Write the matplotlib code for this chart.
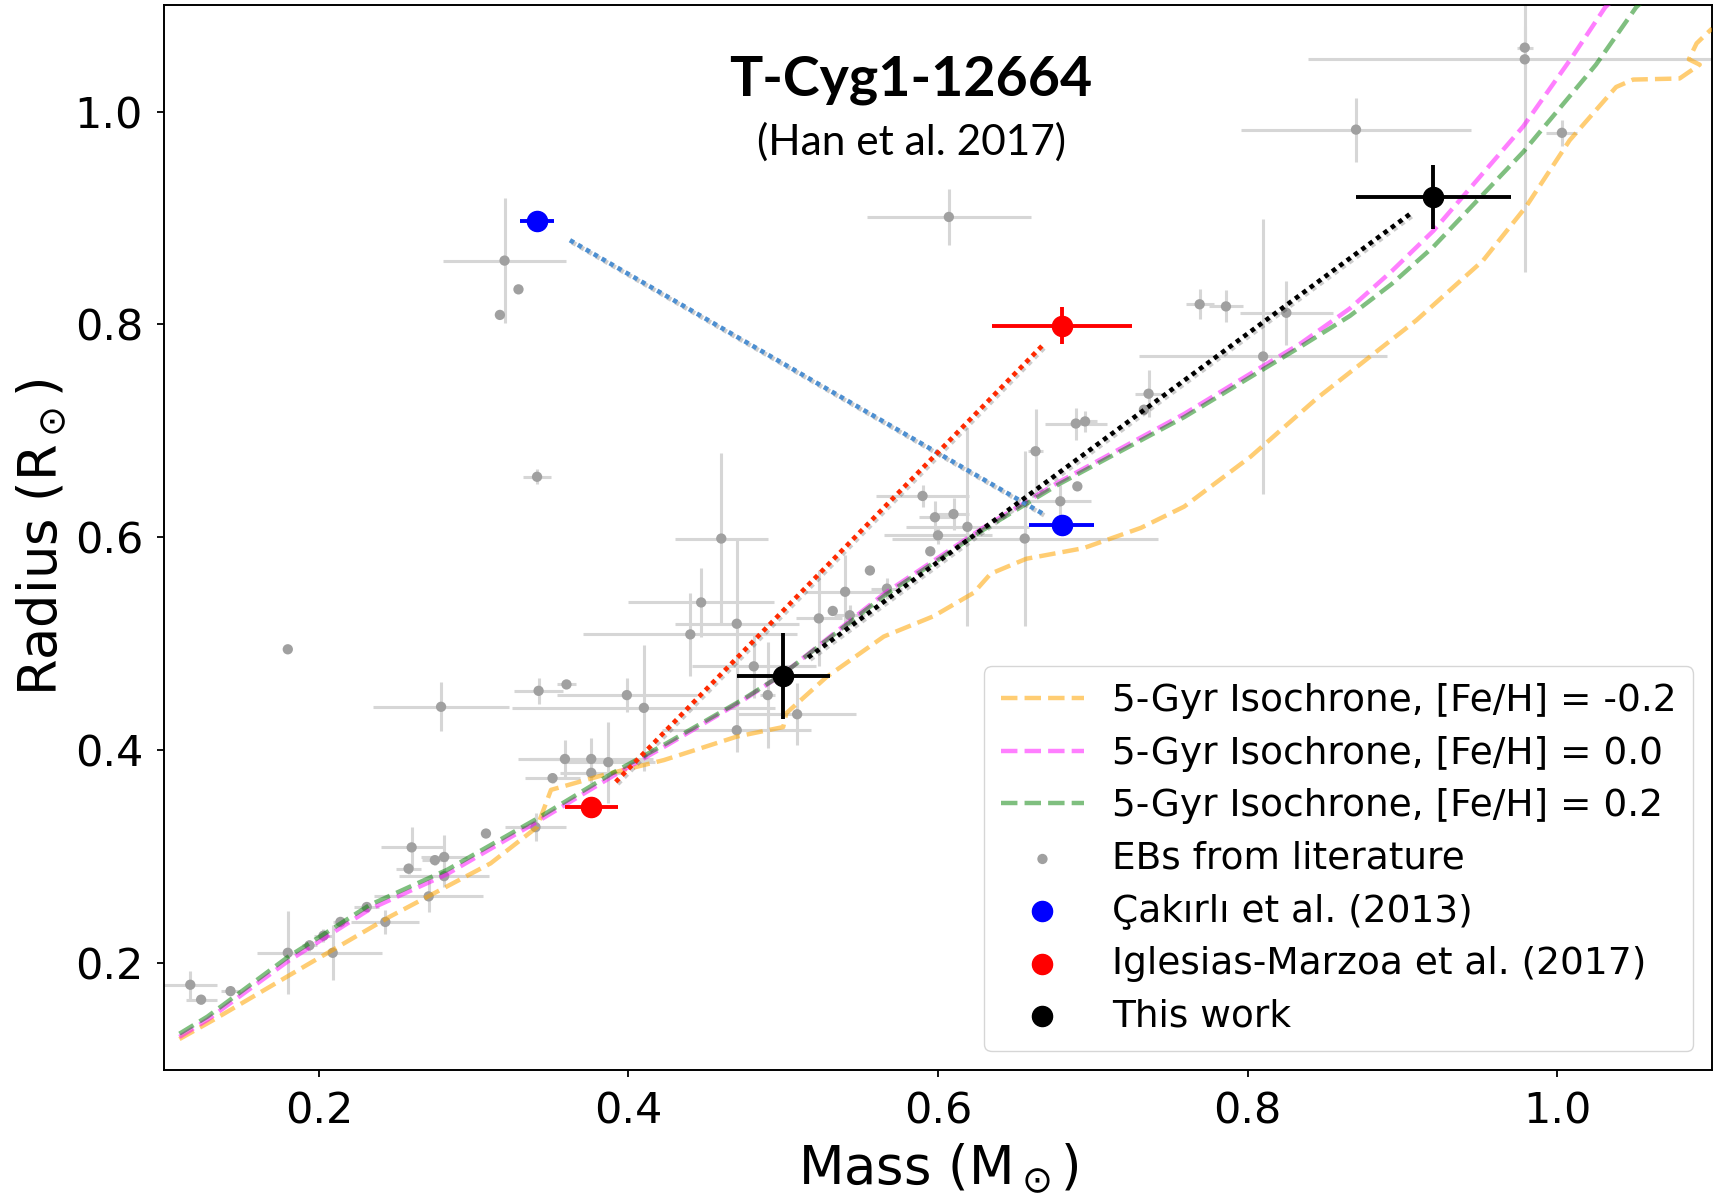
import numpy as np
import matplotlib
matplotlib.use('Agg')
import matplotlib.pyplot as plt
import matplotlib.patheffects as pe

# isochrones (mass, radius)
iso_m02 = [0.11, 0.128, 0.180, 0.233, 0.283, 0.341, 0.39, 0.425, 0.474, 0.5, 0.565, 0.629,
           0.678, 0.759, 0.834, 0.866, 0.893, 0.92, 0.978, 1.025, 1.051, 1.06]
iso_r02 = [0.134, 0.150, 0.206, 0.255, 0.288, 0.336, 0.379, 0.407, 0.448, 0.472, 0.545, 0.607,
           0.65, 0.713, 0.779, 0.808, 0.838, 0.873, 0.962, 1.044, 1.098, 1.11]

iso_m00 = [0.11, 0.128, 0.180, 0.233, 0.283, 0.341, 0.39, 0.425, 0.474, 0.5, 0.565, 0.629,
           0.678, 0.759, 0.802, 0.834, 0.866, 0.893, 0.92, 0.978, 1.01, 1.031, 1.04]
iso_r00 = [0.131, 0.147, 0.202, 0.251, 0.284, 0.333, 0.376, 0.405, 0.447, 0.472, 0.547, 0.609,
           0.652, 0.716, 0.754, 0.782, 0.815, 0.85, 0.888, 0.986, 1.052, 1.098, 1.11]

iso_mm02 = [0.11, 0.132, 0.194, 0.246, 0.311, 0.341, 0.350, 0.384, 0.423, 0.47, 0.5, 0.502,
            0.528, 0.565, 0.597, 0.623, 0.634, 0.657, 0.694, 0.731, 0.759, 0.802, 0.845,
            0.909, 0.952, 0.98, 1.008, 1.038, 1.049, 1.079, 1.092, 1.085, 1.09, 1.1]
iso_rm02 = [0.129, 0.147, 0.2, 0.244, 0.294, 0.328, 0.363, 0.377, 0.391, 0.413, 0.422, 0.435,
            0.469, 0.507, 0.526, 0.548, 0.566, 0.58, 0.59, 0.609, 0.629, 0.676, 0.731,
            0.804, 0.86, 0.911, 0.973, 1.023, 1.03, 1.031, 1.044, 1.049, 1.064, 1.078]

# EBs from literature: mass, radius, mass error, radius error
eb_m = [0.117, 0.124, 0.143, 0.180, 0.194, 0.203, 0.209, 0.214, 0.231, 0.243, 0.258, 0.260,
        0.271, 0.275, 0.281, 0.281, 0.180, 0.279, 0.308, 0.340, 0.342, 0.360, 0.341, 0.320,
        0.329, 0.317, 0.351, 0.359, 0.376, 0.387, 0.376, 0.399, 0.410, 0.440, 0.447, 0.460,
        0.470, 0.481, 0.470, 0.490, 0.509, 0.523, 0.532, 0.540, 0.543, 0.556, 0.567, 0.590,
        0.598, 0.610, 0.619, 0.600, 0.595, 0.607, 0.656, 0.663, 0.679, 0.690, 0.689, 0.695,
        0.733, 0.736, 0.769, 0.786, 0.810, 0.825, 0.870, 0.979, 0.979, 1.003]
eb_r = [0.180, 0.166, 0.174, 0.210, 0.217, 0.226, 0.210, 0.239, 0.253, 0.239, 0.289, 0.309,
        0.263, 0.297, 0.300, 0.282, 0.495, 0.441, 0.322, 0.328, 0.456, 0.462, 0.657, 0.860,
        0.833, 0.809, 0.374, 0.392, 0.392, 0.389, 0.379, 0.452, 0.440, 0.509, 0.539, 0.599,
        0.519, 0.479, 0.419, 0.452, 0.434, 0.524, 0.531, 0.549, 0.527, 0.569, 0.552, 0.639,
        0.619, 0.622, 0.610, 0.602, 0.587, 0.901, 0.599, 0.681, 0.634, 0.648, 0.707, 0.709,
        0.720, 0.735, 0.819, 0.817, 0.770, 0.811, 0.983, 1.049, 1.060, 0.980]
eb_merr = [0.017, 0.010, 0.006, 0.020, 0.005, 0.006, 0.032, 0.005, 0.008, 0.022, 0.008, 0.020,
           0.035, 0.008, 0.015, 0.029, 0.0, 0.044, 0.0, 0.020, 0.016, 0.006, 0.009, 0.040,
           0.0, 0.0, 0.018, 0.030, 0.040, 0.030, 0.020, 0.045, 0.085, 0.069, 0.047, 0.030,
           0.040, 0.040, 0.048, 0.005, 0.038, 0.015, 0.0, 0.026, 0.010, 0.0, 0.010, 0.030,
           0.010, 0.010, 0.040, 0.035, 0.0, 0.053, 0.086, 0.005, 0.020, 0.0, 0.020, 0.008,
           0.0, 0.009, 0.009, 0.011, 0.080, 0.030, 0.074, 0.140, 0.005, 0.010]
eb_rerr = [0.013, 0.004, 0.004, 0.039, 0.005, 0.006, 0.026, 0.005, 0.005, 0.011, 0.005, 0.019,
           0.015, 0.005, 0.021, 0.010, 0.0, 0.023, 0.0, 0.013, 0.012, 0.003, 0.007, 0.059,
           0.0, 0.0, 0.005, 0.018, 0.020, 0.038, 0.010, 0.016, 0.059, 0.039, 0.032, 0.080,
           0.079, 0.030, 0.020, 0.050, 0.029, 0.045, 0.0, 0.035, 0.010, 0.0, 0.010, 0.010,
           0.015, 0.015, 0.093, 0.008, 0.0, 0.026, 0.082, 0.040, 0.015, 0.0, 0.015, 0.010,
           0.0, 0.022, 0.014, 0.015, 0.129, 0.030, 0.030, 0.200, 0.020, 0.012]

# T-Cyg1-12664 solutions (primary, secondary)
cak_m, cak_r = [0.341, 0.680], [0.897, 0.612]
cak_merr, cak_rerr = [0.011, 0.021], [0.008, 0.008]
igl_m, igl_r = [0.376, 0.680], [0.347, 0.799]
igl_merr, igl_rerr = [0.017, 0.045], [0.005, 0.017]
tw_m, tw_r = [0.500, 0.920], [0.470, 0.920]
tw_merr, tw_rerr = [0.030, 0.050], [0.040, 0.030]

fig = plt.figure(figsize=(17.15, 11.96), dpi=100)
ax = fig.add_axes([0.0956, 0.1054, 0.9027, 0.8904])
ax.set_xlim(0.1, 1.1)
ax.set_ylim(0.1, 1.1)

# literature EBs
ax.errorbar(eb_m, eb_r, xerr=eb_merr, yerr=eb_rerr, fmt='none', ecolor='#d6d6d6',
            elinewidth=2.2, zorder=1)
h_eb = ax.scatter(eb_m, eb_r, s=55, color='#a0a0a0', edgecolors='none', zorder=2,
                  label='EBs from literature')

# isochrones
h1, = ax.plot(iso_mm02, iso_rm02, '--', color='orange', alpha=0.55, lw=3.2, zorder=3,
              label='5-Gyr Isochrone, [Fe/H] = -0.2')
h2, = ax.plot(iso_m00, iso_r00, '--', color='magenta', alpha=0.5, lw=3.2, zorder=3,
              label='5-Gyr Isochrone, [Fe/H] = 0.0')
h3, = ax.plot(iso_m02, iso_r02, '--', color='green', alpha=0.5, lw=3.2, zorder=3,
              label='5-Gyr Isochrone, [Fe/H] = 0.2')

# dotted connectors between the two components, pulled back from the markers (pixels)
def connector(mm, rr, c, s0, s1):
    T = ax.transData
    a = T.transform((mm[0], rr[0]))
    b = T.transform((mm[1], rr[1]))
    u = (b - a) / np.hypot(*(b - a))
    p = T.inverted().transform(np.array([a + u * s0, b - u * s1]))
    ax.plot(p[:, 0], p[:, 1], color=c, lw=3.3, linestyle=(0, (1, 1)), zorder=4,
            path_effects=[pe.SimpleLineShadow(offset=(1.5, -1.5), alpha=0.2), pe.Normal()])

connector(cak_m, cak_r, '#4d8fd1', 38, 22)
connector(igl_m, igl_r, '#ff2a00', 35, 28)
connector(tw_m, tw_r, 'black', 31, 27)

# T-Cyg1-12664 measurements
sets = [(cak_m, cak_r, cak_merr, cak_rerr, 'blue', u'Çakırlı et al. (2013)'),
        (igl_m, igl_r, igl_merr, igl_rerr, 'red', 'Iglesias-Marzoa et al. (2017)'),
        (tw_m, tw_r, tw_merr, tw_rerr, 'black', 'This work')]
handles = [h1, h2, h3, h_eb]
for mm, rr, me, re, c, lab in sets:
    ax.errorbar(mm, rr, xerr=me, yerr=re, fmt='none', ecolor=c, elinewidth=2.8, zorder=5)
    handles.append(ax.scatter(mm, rr, s=210, color=c, zorder=6, label=lab))

ax.set_xticks([0.2, 0.4, 0.6, 0.8, 1.0])
ax.set_yticks([0.2, 0.4, 0.6, 0.8, 1.0])
ax.tick_params(labelsize=31, width=1.3, length=5, pad=10)
for s in ax.spines.values():
    s.set_linewidth(1.4)
ax.set_xlabel(r'Mass (M$_\odot$)', fontsize=38, labelpad=6)
ax.set_ylabel(r'Radius (R$_\odot$)', fontsize=38, labelpad=4)

ax.legend(handles=handles, loc='lower right', fontsize=27, handlelength=2.2,
          labelspacing=0.44, borderpad=0.45, handletextpad=0.75)

ax.text(0.4826, 0.93, 'T-Cyg1-12664', transform=ax.transAxes, ha='center', va='center',
        fontsize=40, fontweight='bold', family='Lato')
ax.text(0.4826, 0.871, '(Han et al. 2017)', transform=ax.transAxes, ha='center',
        va='center', fontsize=30.5, family='Lato')

fig.savefig('out.png', dpi=100)
